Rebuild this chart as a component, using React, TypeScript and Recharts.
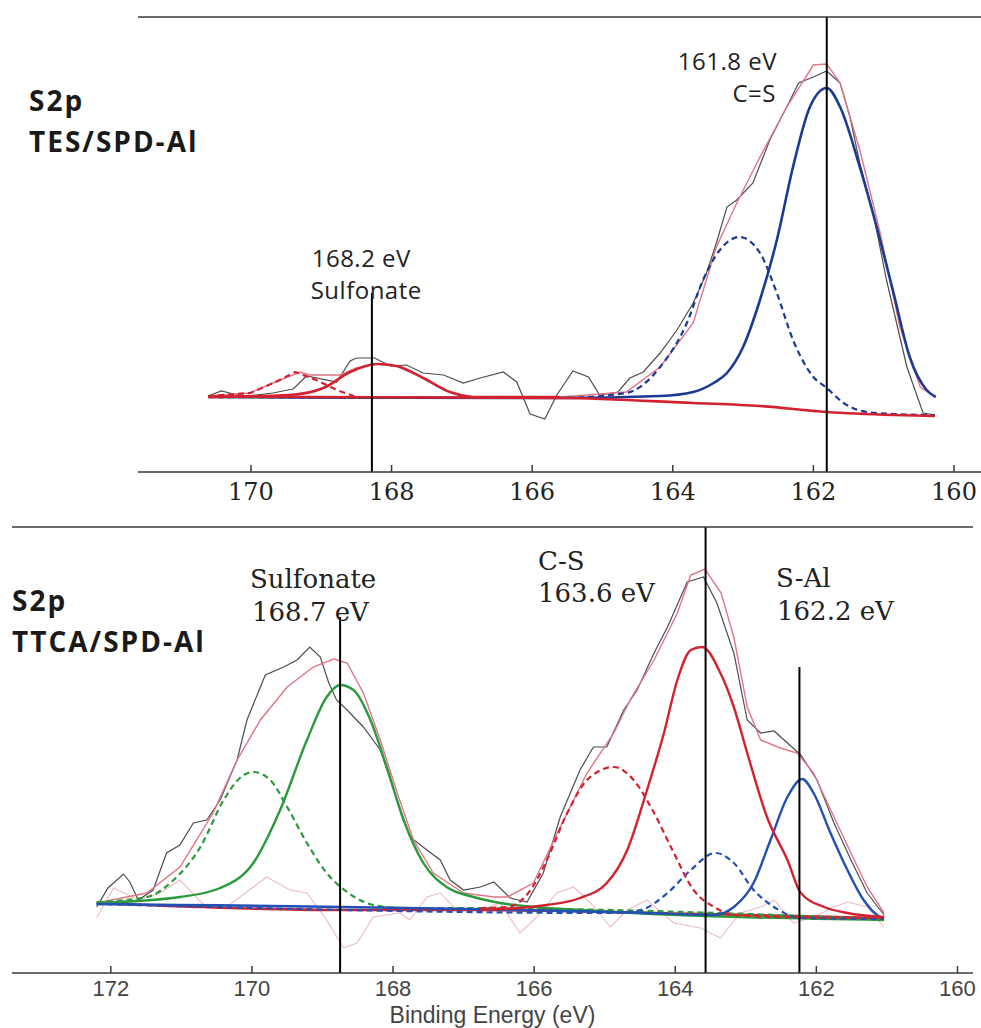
import React from "react";
import { Line, LineChart, ReferenceLine, XAxis, YAxis, Label } from "recharts";

type Pt = [number, number];

// ---------- top panel: S2p TES/SPD-Al (binding energy eV, intensity a.u.) ----------
const topTicks = [170, 168, 166, 164, 162, 160];

const topRaw: Pt[] = [
  [170.61, 76], [170.42, 81], [170.25, 78], [170.04, 76], [169.69, 79], [169.4, 83],
  [169.21, 96], [168.78, 90], [168.59, 111], [168.5, 114], [168.24, 114], [168.02, 106],
  [167.79, 107], [167.55, 99], [167.26, 97], [166.98, 89], [166.74, 94], [166.41, 100],
  [166.22, 90], [166.03, 58], [165.82, 53], [165.65, 77], [165.42, 101], [165.2, 95],
  [165.04, 77], [164.78, 80], [164.61, 94], [164.42, 100], [164.18, 119], [163.94, 142],
  [163.71, 169], [163.52, 199], [163.38, 229], [163.23, 265], [163.09, 272], [162.86, 289],
  [162.76, 307], [162.62, 332], [162.38, 365], [162.21, 389], [162.0, 395], [161.81, 401],
  [161.62, 389], [161.48, 355], [161.34, 309], [161.15, 259], [160.96, 192], [160.67, 105],
  [160.44, 59], [160.27, 57],
];

const topEnvelope: Pt[] = [
  [170.61, 76], [170.01, 79], [169.69, 89], [169.3, 100], [169.16, 97], [168.73, 97],
  [168.5, 104], [168.21, 108], [167.93, 106], [167.55, 94], [167.17, 80], [166.84, 75],
  [165.6, 75], [164.66, 80], [164.18, 105], [163.71, 149], [163.38, 225], [163.09, 269],
  [162.76, 315], [162.38, 365], [162.0, 407], [161.81, 408], [161.62, 389], [161.34, 322],
  [161.05, 239], [160.77, 145], [160.48, 85], [160.27, 75],
];

const topCS: Pt[] = [
  [170.61, 75], [165.6, 74], [164.18, 76], [163.71, 80], [163.42, 89], [163.23, 99],
  [163.0, 125], [162.76, 172], [162.52, 232], [162.29, 305], [162.05, 365], [161.81, 384],
  [161.62, 365], [161.34, 305], [161.1, 245], [160.86, 179], [160.63, 115], [160.39, 82],
  [160.26, 75],
];

const topCSDoublet: Pt[] = [
  [170.61, 75], [165.6, 74], [164.66, 79], [164.18, 105], [163.8, 149], [163.57, 192],
  [163.33, 222], [163.05, 235], [162.76, 219], [162.52, 179], [162.29, 132], [162.0, 95],
  [161.81, 84], [161.57, 69], [161.24, 60], [160.86, 58], [160.27, 57],
];

const topSulfonate: Pt[] = [
  [170.61, 75], [169.45, 77], [168.97, 84], [168.59, 100], [168.21, 108], [167.93, 106],
  [167.55, 94], [167.17, 80], [166.84, 75], [165.6, 75],
];

const topSulfonateDoublet: Pt[] = [
  [170.61, 76], [170.01, 79], [169.68, 89], [169.37, 100], [169.07, 92], [168.78, 82],
  [168.5, 75], [167.88, 75],
];

const topBackground: Pt[] = [
  [170.61, 75.5], [165.6, 74], [163.71, 69], [162.76, 66], [161.81, 60], [160.86, 57],
  [160.27, 56],
];

// ---------- bottom panel: S2p TTCA/SPD-Al ----------
const bottomTicks = [172, 170, 168, 166, 164, 162, 160];

const botRaw: Pt[] = [
  [172.2, 66], [172.04, 85], [171.82, 99], [171.73, 91], [171.61, 73], [171.4, 83],
  [171.21, 120], [171.02, 128], [170.83, 150], [170.64, 153], [170.45, 173], [170.21, 213],
  [170.07, 253], [169.81, 298], [169.55, 306], [169.36, 313], [169.18, 326], [169.03, 316],
  [168.91, 290], [168.8, 273], [168.65, 263], [168.42, 246], [168.18, 223], [167.94, 173],
  [167.76, 136], [167.52, 123], [167.33, 113], [167.19, 93], [167.0, 83], [166.76, 86],
  [166.57, 91], [166.34, 75], [166.1, 71], [165.87, 100], [165.63, 156], [165.35, 203],
  [165.16, 226], [164.97, 226], [164.73, 263], [164.54, 283], [164.3, 320], [164.11, 346],
  [163.83, 391], [163.6, 396], [163.41, 370], [163.17, 320], [162.98, 253], [162.79, 240],
  [162.6, 242], [162.41, 230], [162.22, 218], [161.99, 193], [161.75, 150], [161.51, 113],
  [161.28, 80], [161.04, 58],
];

const botEnvelope: Pt[] = [
  [172.2, 70], [171.49, 80], [171.02, 106], [170.55, 160], [170.21, 213], [169.88, 253],
  [169.5, 286], [169.13, 306], [168.84, 314], [168.65, 310], [168.42, 280], [168.18, 233],
  [167.94, 180], [167.71, 133], [167.43, 100], [167.0, 80], [166.57, 76], [166.38, 76],
  [166.01, 90], [165.63, 146], [165.25, 200], [164.87, 240], [164.64, 273], [164.3, 313],
  [163.97, 360], [163.78, 398], [163.58, 404], [163.35, 380], [163.17, 336], [162.98, 266],
  [162.79, 233], [162.51, 225], [162.27, 220], [162.04, 200], [161.75, 156], [161.51, 120],
  [161.28, 86], [161.04, 60],
];

const botResidual: Pt[] = [
  [172.2, 55], [171.96, 85], [171.61, 73], [171.3, 80], [171.02, 93], [170.64, 65],
  [170.36, 66], [170.17, 76], [169.79, 96], [169.46, 83], [169.22, 80], [168.94, 53],
  [168.7, 25], [168.51, 30], [168.28, 56], [167.9, 60], [167.76, 53], [167.52, 76],
  [167.33, 80], [167.14, 66], [166.76, 63], [166.48, 70], [166.2, 40], [165.96, 56],
  [165.68, 80], [165.44, 86], [165.2, 70], [164.92, 46], [164.68, 63], [164.4, 73],
  [164.02, 50], [163.64, 45], [163.36, 35], [163.08, 60], [162.79, 66], [162.6, 73],
  [162.32, 50], [162.04, 56], [161.75, 66], [161.56, 71], [161.28, 66], [161.04, 46],
];

const botSulfonate: Pt[] = [
  [172.2, 70], [171.02, 76], [170.45, 85], [169.98, 110], [169.6, 163], [169.22, 233],
  [168.94, 276], [168.75, 288], [168.56, 283], [168.32, 253], [168.09, 206], [167.85, 153],
  [167.57, 110], [167.24, 86], [166.86, 76], [166.48, 70], [165.35, 63], [161.04, 53],
];

const botSulfonateDoublet: Pt[] = [
  [172.2, 71], [171.49, 76], [171.11, 93], [170.73, 126], [170.4, 173], [170.17, 195],
  [169.98, 201], [169.74, 193], [169.5, 166], [169.22, 130], [168.94, 100], [168.65, 81],
  [168.28, 68], [167.9, 65], [167.24, 65], [161.04, 54],
];

const botCS: Pt[] = [
  [166.76, 63], [165.82, 68], [165.35, 75], [164.97, 90], [164.68, 123], [164.4, 183],
  [164.16, 240], [163.97, 293], [163.78, 323], [163.62, 326], [163.36, 300], [163.17, 266],
  [162.98, 220], [162.7, 156], [162.41, 113], [162.22, 80], [161.89, 66], [161.56, 60],
  [161.04, 56],
];

const botCSDoublet: Pt[] = [
  [166.76, 65], [166.38, 66], [166.05, 83], [165.82, 113], [165.53, 160], [165.25, 193],
  [164.87, 206], [164.59, 193], [164.3, 160], [164.02, 120], [163.74, 83], [163.45, 66],
  [163.17, 58], [162.51, 56], [161.04, 55],
];

const botSAl: Pt[] = [
  [172.2, 69], [164.4, 60], [163.45, 58], [163.17, 66], [162.89, 90], [162.65, 133],
  [162.41, 176], [162.2, 194], [162.04, 180], [161.8, 140], [161.56, 103], [161.33, 73],
  [161.09, 56], [161.04, 55],
];

const botSAlDoublet: Pt[] = [
  [172.2, 69], [164.87, 60], [164.49, 63], [164.11, 80], [163.78, 103], [163.43, 120],
  [163.17, 110], [162.89, 83], [162.6, 66], [162.22, 55], [161.04, 54],
];

const botBackground: Pt[] = [
  [172.2, 70], [168.75, 63], [166.76, 63], [163.64, 59], [161.04, 55],
];

const pts = (a: Pt[]) => a.map(([e, i]) => ({ e, i }));

const RED = "#d3222f";
const NAVY = "#1c3a94";
const BLUE = "#2350b4";
const GREEN = "#2c9a3c";
const RAW = "#4d4d4d";
const PINK = "#e07586";
const RESID = "#ecbcc8";

const line = (
  key: string,
  d: Pt[],
  color: string,
  width = 2.2,
  dash?: string,
  linear = false
) => (
  <Line
    key={key}
    data={pts(d)}
    dataKey="i"
    type={linear ? "linear" : "monotone"}
    stroke={color}
    strokeWidth={width}
    strokeDasharray={dash}
    dot={false}
    activeDot={false}
    isAnimationActive={false}
  />
);

const axisStroke = "#3a3a3a";

// tick label with its own font (serif on the top panel, plain sans below)
const makeTick =
  (font: string, size: number, color: string) =>
  (props: any) => {
    const { x, y, payload } = props;
    return (
      <text x={x} y={y} dy="0.71em" textAnchor="middle" fontFamily={font} fontSize={size} fill={color}>
        {payload.value}
      </text>
    );
  };

const TopTick = makeTick("'DejaVu Serif', serif", 24, "#222");
const BottomTick = makeTick("'Liberation Sans', Arial, sans-serif", 22, "#444");

export default function App() {
  return (
    <div
      style={{
        position: "absolute",
        left: 0,
        top: 0,
        width: 981,
        height: 1028,
        background: "#fff",
        overflow: "hidden",
      }}
    >
      <div style={{ position: "absolute", left: 0, top: 0 }}>
        <LineChart width={981} height={520} margin={{ top: 0, right: 0, bottom: 0, left: 138 }}>
          <XAxis
            xAxisId="top"
            orientation="top"
            type="number"
            dataKey="e"
            domain={[159.616, 171.607]}
            reversed
            allowDataOverflow
            ticks={topTicks}
            height={17}
            tick={false}
            tickSize={-7}
            stroke={axisStroke}
            strokeWidth={1.5}
          />
          <XAxis
            type="number"
            dataKey="e"
            domain={[159.616, 171.607]}
            reversed
            allowDataOverflow
            ticks={topTicks}
            height={48}
            tickSize={-7}
            tickMargin={18}
            stroke={axisStroke}
            strokeWidth={1.5}
            tick={TopTick}
          />
          <YAxis hide type="number" domain={[0, 455]} allowDataOverflow />
          {line("raw", topRaw, RAW, 1.2, undefined, true)}
          {line("env", topEnvelope, PINK, 1.4, undefined, true)}
          {line("csd", topCSDoublet, NAVY, 2.2, "6 4")}
          {line("cs", topCS, NAVY, 2.6)}
          {line("sfd", topSulfonateDoublet, RED, 2.2, "6 4", true)}
          {line("sf", topSulfonate, RED, 2.6)}
          {line("bg", topBackground, RED, 2.6)}
          <ReferenceLine
            segment={[
              { x: 168.28, y: 179 },
              { x: 168.28, y: 0 },
            ]}
            stroke="#000"
            strokeWidth={2}
          />
          <ReferenceLine x={161.81} stroke="#000" strokeWidth={2} />
        </LineChart>
      </div>

      <div style={{ position: "absolute", left: 0, top: 510 }}>
        <LineChart width={981} height={518} margin={{ top: 0, right: 8, bottom: 0, left: 12 }}>
          <XAxis
            xAxisId="top"
            orientation="top"
            type="number"
            dataKey="e"
            domain={[159.78, 173.4]}
            reversed
            allowDataOverflow
            ticks={bottomTicks}
            height={17}
            tick={false}
            tickSize={-7}
            stroke={axisStroke}
            strokeWidth={1.5}
          />
          <XAxis
            type="number"
            dataKey="e"
            domain={[159.78, 173.4]}
            reversed
            allowDataOverflow
            ticks={bottomTicks}
            height={55}
            tickSize={-7}
            tickMargin={14}
            stroke={axisStroke}
            strokeWidth={1.5}
            tick={BottomTick}
          >
            <Label
              value="Binding Energy (eV)"
              position="insideBottom"
              offset={5}
              style={{ fill: "#444", fontSize: 23, fontFamily: "'Liberation Sans', Arial, sans-serif" }}
            />
          </XAxis>
          <YAxis hide type="number" domain={[0, 446]} allowDataOverflow />
          {line("res", botResidual, RESID, 1.1, undefined, true)}
          {line("raw", botRaw, RAW, 1.2, undefined, true)}
          {line("env", botEnvelope, PINK, 1.4, undefined, true)}
          {line("bg", botBackground, RED, 2.6)}
          {line("sfd", botSulfonateDoublet, GREEN, 2.2, "6 4")}
          {line("sf", botSulfonate, GREEN, 2.4)}
          {line("sad", botSAlDoublet, BLUE, 2.2, "6 4")}
          {line("sa", botSAl, BLUE, 2.4)}
          {line("csd", botCSDoublet, RED, 2.2, "6 4")}
          {line("cs", botCS, RED, 2.4)}
          <ReferenceLine
            segment={[
              { x: 168.75, y: 356 },
              { x: 168.75, y: 0 },
            ]}
            stroke="#000"
            strokeWidth={2}
          />
          <ReferenceLine x={163.57} stroke="#000" strokeWidth={2} />
          <ReferenceLine
            segment={[
              { x: 162.24, y: 306 },
              { x: 162.24, y: 0 },
            ]}
            stroke="#000"
            strokeWidth={2}
          />
        </LineChart>
      </div>

      <svg
        width={981}
        height={1028}
        style={{ position: "absolute", left: 0, top: 0, pointerEvents: "none" }}
      >
        <g fontFamily="'Open Sans', sans-serif" fontWeight={700} fontSize={28} letterSpacing={2} fill="#1a1a1a">
          <text x={29} y={110.7}>S2p</text>
          <text x={29} y={151.7}>TES/SPD-Al</text>
          <text x={12} y={611}>S2p</text>
          <text x={12} y={651.7}>TTCA/SPD-Al</text>
        </g>
        <g fontFamily="'Open Sans', sans-serif" fontSize={24} letterSpacing={0.5} fill="#222">
          <text x={311.7} y={266.7}>168.2 eV</text>
          <text x={310.7} y={299}>Sulfonate</text>
          <text x={777} y={70} textAnchor="end">161.8 eV</text>
          <text x={776} y={101.7} textAnchor="end">C=S</text>
        </g>
        <g fontFamily="'DejaVu Serif', serif" fontSize={26} fill="#222">
          <text x={250} y={588}>Sulfonate</text>
          <text x={252} y={621}>168.7 eV</text>
          <text x={538} y={570}>C-S</text>
          <text x={538} y={601.7}>163.6 eV</text>
          <text x={776} y={587}>S-Al</text>
          <text x={777} y={620}>162.2 eV</text>
        </g>
      </svg>
    </div>
  );
}
